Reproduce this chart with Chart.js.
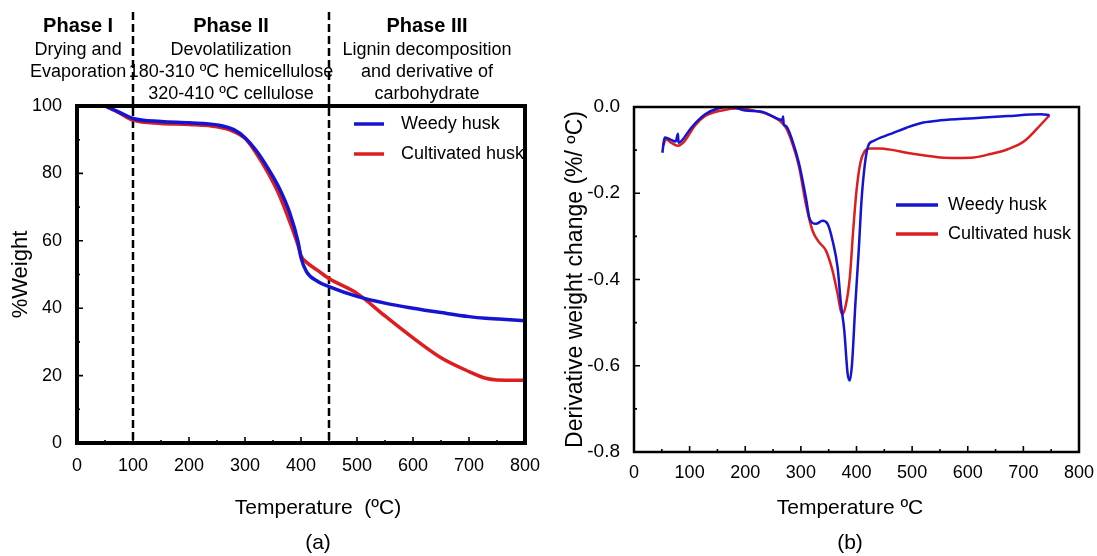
<!DOCTYPE html>
<html lang="en">
<head>
<meta charset="UTF-8">
<title>TGA and DTG of weedy and cultivated husk</title>
<script src="https://cdn.jsdelivr.net/npm/chart.js"></script>
<style>
  html, body { margin: 0; padding: 0; background: #fff; overflow: hidden; }
  canvas { position: absolute; top: 0; }
  #tgaChart { left: 0; }
  #dtgChart { left: 560px; }
</style>
</head>
<body>
<canvas id="tgaChart" width="560" height="556"></canvas>
<canvas id="dtgChart" width="537" height="556"></canvas>
<script>
// (a) TGA: % weight against temperature (ºC)
const tgaTemp = [50, 75, 100, 150, 200, 250, 280, 300, 320, 340, 360, 380, 395, 400, 410, 430, 450, 500, 550, 600, 650, 700, 730, 750, 800];
const tgaWeedy = [100, 98.2, 96.3, 95.4, 95.0, 94.4, 93.0, 90.6, 86.8, 81.8, 76.0, 68.2, 59.5, 55.0, 50.8, 47.9, 46.4, 43.5, 41.5, 40.0, 38.7, 37.5, 37.0, 36.8, 36.3];
const tgaCultivated = [100, 98.0, 95.8, 94.8, 94.5, 93.8, 92.4, 90.4, 86.0, 80.5, 74.0, 65.6, 58.5, 55.6, 53.6, 51.2, 48.8, 44.4, 37.7, 31.2, 25.3, 21.2, 19.2, 18.7, 18.6];

// (b) DTG: derivative weight change (%/ºC)
const dtgWeedyTemp = [51, 55, 65, 75, 79, 80, 85, 103, 128, 152, 175, 200, 230, 248, 267, 268, 269, 273, 285, 297, 309, 316, 327, 339, 348, 357, 366, 372, 378, 384, 388, 392, 398, 404, 409, 415, 421, 430, 460, 490, 520, 551, 611, 672, 732, 747];
const dtgWeedy = [-0.106, -0.071, -0.075, -0.080, -0.062, -0.083, -0.079, -0.048, -0.017, -0.003, 0.000, -0.008, -0.011, -0.021, -0.030, -0.022, -0.040, -0.044, -0.079, -0.133, -0.210, -0.260, -0.271, -0.264, -0.271, -0.310, -0.372, -0.456, -0.518, -0.618, -0.634, -0.595, -0.456, -0.333, -0.217, -0.133, -0.090, -0.079, -0.063, -0.048, -0.036, -0.031, -0.026, -0.021, -0.017, -0.019];
const dtgCultTemp = [52, 58, 67, 79, 91, 109, 128, 158, 188, 218, 248, 273, 285, 297, 309, 321, 333, 345, 357, 366, 374, 380, 388, 394, 400, 407, 415, 424, 442, 466, 490, 520, 551, 581, 611, 641, 672, 702, 732, 747];
const dtgCultivated = [-0.090, -0.075, -0.083, -0.090, -0.079, -0.044, -0.021, -0.008, -0.003, -0.009, -0.021, -0.048, -0.086, -0.140, -0.225, -0.287, -0.314, -0.333, -0.380, -0.433, -0.481, -0.464, -0.395, -0.287, -0.194, -0.129, -0.102, -0.096, -0.096, -0.100, -0.106, -0.112, -0.117, -0.118, -0.117, -0.109, -0.098, -0.079, -0.040, -0.019];

const seriesNames = ['Weedy husk', 'Cultivated husk'];
const phaseLimits = [100, 450];
const phaseTitles = ['Phase I', 'Phase II', 'Phase III'];
const phaseNotes = [
  ['Drying and', 'Evaporation'],
  ['Devolatilization', '180-310 ºC hemicellulose', '320-410 ºC cellulose'],
  ['Lignin decomposition', 'and derivative of', 'carbohydrate']
];

const FONT = '"Liberation Sans", Arial, sans-serif';
const BLUE = '#1414d2';
const RED = '#dc1e1e';
Chart.defaults.font.family = FONT;
Chart.defaults.color = '#000';

const toXY = (xs, ys) => xs.map((x, i) => ({ x: x, y: ys[i] }));

// closed frame plus inward major / minor ticks
const boxTicks = {
  id: 'boxTicks',
  afterDatasetsDraw(chart, args, o) {
    const { ctx, chartArea: a, scales } = chart;
    ctx.save();
    ctx.strokeStyle = '#000';
    ctx.lineWidth = 1.6;
    ctx.beginPath();
    const mark = (s, vals, len) => vals.forEach(v => {
      const p = s.getPixelForValue(v);
      if (s.isHorizontal()) { ctx.moveTo(p, a.bottom); ctx.lineTo(p, a.bottom - len); }
      else { ctx.moveTo(a.left, p); ctx.lineTo(a.left + len, p); }
    });
    [scales.x, scales.y].forEach(s => {
      const vals = s.ticks.map(t => t.value);
      mark(s, vals, o.major);
      mark(s, vals.slice(1).map((v, i) => (v + vals[i]) / 2), o.minor);
    });
    ctx.stroke();
    ctx.lineWidth = o.width;
    ctx.strokeRect(a.left, a.top, a.width, a.height);
    ctx.restore();
  }
};

const insideLegend = {
  id: 'insideLegend',
  afterDatasetsDraw(chart, args, o) {
    const ctx = chart.ctx;
    ctx.save();
    ctx.font = o.size + 'px ' + FONT;
    ctx.textBaseline = 'middle';
    ctx.fillStyle = '#000';
    chart.data.datasets.forEach((ds, i) => {
      const y = o.y + i * o.gap;
      ctx.strokeStyle = ds.borderColor;
      ctx.lineWidth = o.lineWidth;
      ctx.beginPath();
      ctx.moveTo(o.x, y);
      ctx.lineTo(o.x + o.len, y);
      ctx.stroke();
      ctx.fillText(ds.label, o.x + o.len + o.pad, y);
    });
    ctx.restore();
  }
};

const captions = {
  id: 'captions',
  afterDraw(chart, args, o) {
    const ctx = chart.ctx;
    ctx.save();
    ctx.fillStyle = '#000';
    ctx.textAlign = 'center';
    ctx.textBaseline = 'middle';
    ctx.font = o.size + 'px ' + FONT;
    o.lines.forEach((t, i) => ctx.fillText(t, o.x, o.y + i * o.gap));
    ctx.restore();
  }
};

// dashed phase boundaries and their labels (chart a only)
const phases = {
  id: 'phases',
  beforeDatasetsDraw(chart, args, o) {
    const { ctx, chartArea: a, scales: { x } } = chart;
    ctx.save();
    ctx.strokeStyle = '#000';
    ctx.lineWidth = 2.5;
    ctx.setLineDash([8, 4]);
    phaseLimits.forEach(v => {
      const px = x.getPixelForValue(v);
      ctx.beginPath();
      ctx.moveTo(px, o.top);
      ctx.lineTo(px, a.bottom);
      ctx.stroke();
    });
    ctx.setLineDash([]);
    ctx.fillStyle = '#000';
    ctx.textAlign = 'center';
    ctx.textBaseline = 'middle';
    phaseTitles.forEach((t, i) => {
      const cx = x.getPixelForValue(o.centers[i]);
      ctx.font = 'bold 20px ' + FONT;
      ctx.fillText(t, cx, 26);
      ctx.font = '18px ' + FONT;
      phaseNotes[i].forEach((n, j) => ctx.fillText(n, cx, 50 + j * 22));
    });
    ctx.restore();
  }
};

function axisX(height, pad) {
  return {
    type: 'linear', min: 0, max: 800,
    ticks: { stepSize: 100, font: { size: 18 }, padding: pad, maxRotation: 0 },
    grid: { display: false }, border: { display: false },
    afterFit: s => { s.height = height; }
  };
}

new Chart(document.getElementById('tgaChart'), {
  type: 'line',
  data: {
    datasets: [
      { label: seriesNames[0], data: toXY(tgaTemp, tgaWeedy), borderColor: BLUE, borderWidth: 3.5, pointRadius: 0, cubicInterpolationMode: 'monotone' },
      { label: seriesNames[1], data: toXY(tgaTemp, tgaCultivated), borderColor: RED, borderWidth: 3.5, pointRadius: 0, cubicInterpolationMode: 'monotone' }
    ]
  },
  options: {
    responsive: false, animation: false,
    layout: { padding: { top: 106, right: 35, left: 0, bottom: 0 } },
    plugins: {
      legend: { display: false }, tooltip: { enabled: false },
      boxTicks: { width: 4, major: 6, minor: 3 },
      insideLegend: { x: 354, y: 124, gap: 30, len: 30, pad: 17, size: 18, lineWidth: 3.5 },
      captions: { lines: ['Temperature  (ºC)', '(a)'], x: 318, y: 508, gap: 35, size: 21 },
      phases: { top: 12, centers: [2, 275, 625] }
    },
    scales: {
      x: axisX(113, 4),
      y: {
        min: 0, max: 100,
        ticks: { stepSize: 20, font: { size: 18 }, padding: 7 },
        grid: { display: false }, border: { display: false },
        title: { display: true, text: '%Weight', font: { size: 22 }, padding: { top: 8, bottom: 0 } },
        afterFit: s => { s.width = 77; }
      }
    }
  },
  plugins: [phases, boxTicks, insideLegend, captions]
});

new Chart(document.getElementById('dtgChart'), {
  type: 'line',
  data: {
    datasets: [
      { label: seriesNames[0], data: toXY(dtgWeedyTemp, dtgWeedy), borderColor: BLUE, borderWidth: 2.5, pointRadius: 0, cubicInterpolationMode: 'monotone' },
      { label: seriesNames[1], data: toXY(dtgCultTemp, dtgCultivated), borderColor: RED, borderWidth: 2.5, pointRadius: 0, cubicInterpolationMode: 'monotone' }
    ]
  },
  options: {
    responsive: false, animation: false,
    layout: { padding: { top: 107, right: 18, left: 0, bottom: 0 } },
    plugins: {
      legend: { display: false }, tooltip: { enabled: false },
      boxTicks: { width: 2.5, major: 6, minor: 3 },
      insideLegend: { x: 336, y: 205, gap: 29, len: 42, pad: 10, size: 18, lineWidth: 3.5 },
      captions: { lines: ['Temperature ºC', '(b)'], x: 290, y: 508, gap: 35, size: 21 }
    },
    scales: {
      x: axisX(104, 2),
      y: {
        min: -0.8, max: 0,
        ticks: { stepSize: 0.2, font: { size: 19 }, padding: 6, callback: v => v.toFixed(1) },
        grid: { display: false }, border: { display: false },
        title: { display: true, text: 'Derivative weight change (%/ ºC)', font: { size: 23 }, padding: { top: 2, bottom: 0 } },
        afterFit: s => { s.width = 74; }
      }
    }
  },
  plugins: [boxTicks, insideLegend, captions]
});
</script>
</body>
</html>
